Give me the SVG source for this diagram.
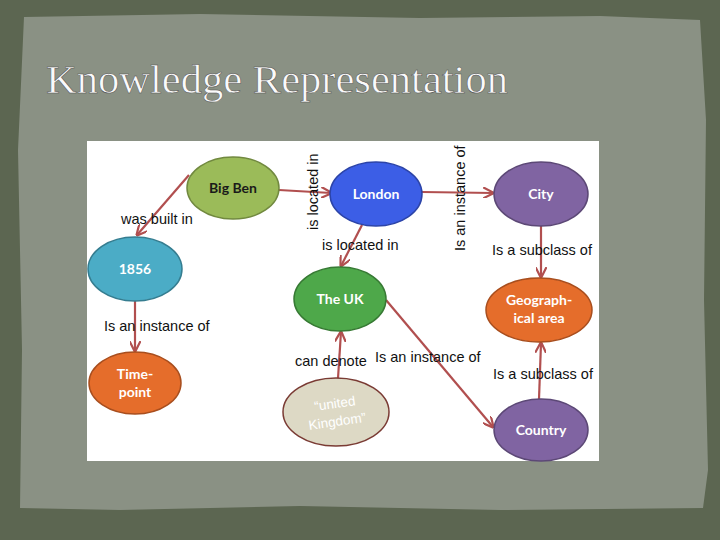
<svg xmlns="http://www.w3.org/2000/svg" width="720" height="540" viewBox="0 0 720 540">
<defs>
<style>
.edge{stroke:#b14f4f;stroke-width:2.2;fill:none;marker-end:url(#ah)}
.lbl{font-family:"Liberation Sans",Arial,sans-serif;font-size:14.5px;fill:#111}
.nt{font-family:Lato,"Open Sans",sans-serif;font-weight:bold;font-size:14px;fill:#fff;text-anchor:middle}
.node ellipse{stroke-width:1.5}
</style>
<marker id="ah" viewBox="0 0 10 10" refX="9" refY="5" markerWidth="5" markerHeight="5" orient="auto-start-reverse" markerUnits="strokeWidth">
<path d="M0,0 L10,5 L0,10" fill="none" stroke="#b14f4f" stroke-width="2"/>
</marker>
</defs>
<rect x="0" y="0" width="720" height="540" fill="#5c6651"/>
<path d="M24,17 L200,14 L420,18 L600,16 L700,20 L706,120 L704,300 L708,470 L703,508 L500,510 L300,506 L120,510 L20,508 L22,350 L18,150 Z" fill="#8a9184"/>
<text x="46" y="93" textLength="462" lengthAdjust="spacingAndGlyphs" font-family="'Liberation Serif','DejaVu Serif',serif" font-size="41" fill="#fafafa" stroke="#4a4a4a" stroke-width="0.5">Knowledge Representation</text>
<rect x="87" y="141" width="512" height="320" fill="#ffffff"/>
<g id="connectors">
<line class="edge" x1="279" y1="190" x2="331" y2="193"/>
<line class="edge" x1="189" y1="175" x2="137" y2="235"/>
<line class="edge" x1="362" y1="225" x2="341" y2="266"/>
<line class="edge" x1="422" y1="192" x2="493" y2="193"/>
<line class="edge" x1="541" y1="226" x2="541" y2="277"/>
<line class="edge" x1="135" y1="301" x2="135" y2="351"/>
<line class="edge" x1="386" y1="300" x2="493" y2="427"/>
<line class="edge" x1="338" y1="378" x2="341" y2="332"/>
<line class="edge" x1="539" y1="399" x2="541" y2="343"/>
<text class="lbl" transform="translate(318,230) rotate(-90)">is located in</text>
<text class="lbl" x="121" y="224">was built in</text>
<text class="lbl" x="322" y="250">is located in</text>
<text class="lbl" transform="translate(465,251) rotate(-90)">Is an instance of</text>
<text class="lbl" x="492" y="255">Is a subclass of</text>
<text class="lbl" x="104" y="331">Is an instance of</text>
<text class="lbl" x="375" y="362">Is an instance of</text>
<text class="lbl" x="295" y="366">can denote</text>
<text class="lbl" x="493" y="379">Is a subclass of</text>
</g>
<g id="bigben" class="node"><ellipse cx="233" cy="188" rx="46" ry="31" fill="#9bbb59" stroke="#71893f"/><text class="nt" x="233" y="193" style="fill:#1a1a1a">Big Ben</text></g>
<g id="london" class="node"><ellipse cx="376" cy="194" rx="46" ry="32" fill="#3c5ee6" stroke="#2c44a8"/><text class="nt" x="376" y="199">London</text></g>
<g id="city" class="node"><ellipse cx="541" cy="194" rx="47" ry="32" fill="#8064a2" stroke="#5c4876"/><text class="nt" x="541" y="199">City</text></g>
<g id="n1856" class="node"><ellipse cx="135" cy="269" rx="47" ry="32" fill="#4bacc6" stroke="#357d90"/><text class="nt" x="135" y="274">1856</text></g>
<g id="theuk" class="node"><ellipse cx="340" cy="299" rx="46" ry="32" fill="#4ea84a" stroke="#377a34"/><text class="nt" x="340" y="304">The UK</text></g>
<g id="geo" class="node"><ellipse cx="539" cy="310" rx="53" ry="32" fill="#e56d2b" stroke="#a84e1e"/><text class="nt" x="539" y="305">Geograph-</text><text class="nt" x="539" y="323">ical area</text></g>
<g id="timepoint" class="node"><ellipse cx="135" cy="383" rx="46" ry="31" fill="#e56d2b" stroke="#a84e1e"/><text class="nt" x="135" y="379">Time-</text><text class="nt" x="135" y="397">point</text></g>
<g id="unitedkingdom" class="node"><ellipse cx="336" cy="412" rx="53" ry="34" fill="#ddd9c5" stroke="#7a3b34"/><g transform="rotate(-8 336 412)"><text x="336" y="408" text-anchor="middle" font-family="'Liberation Sans',Arial,sans-serif" font-size="13.5" fill="#ffffff">“united</text><text x="336" y="426" text-anchor="middle" font-family="'Liberation Sans',Arial,sans-serif" font-size="13.5" fill="#ffffff">Kingdom”</text></g></g>
<g id="country" class="node"><ellipse cx="541" cy="430" rx="47" ry="31" fill="#8064a2" stroke="#5c4876"/><text class="nt" x="541" y="435">Country</text></g>
</svg>
